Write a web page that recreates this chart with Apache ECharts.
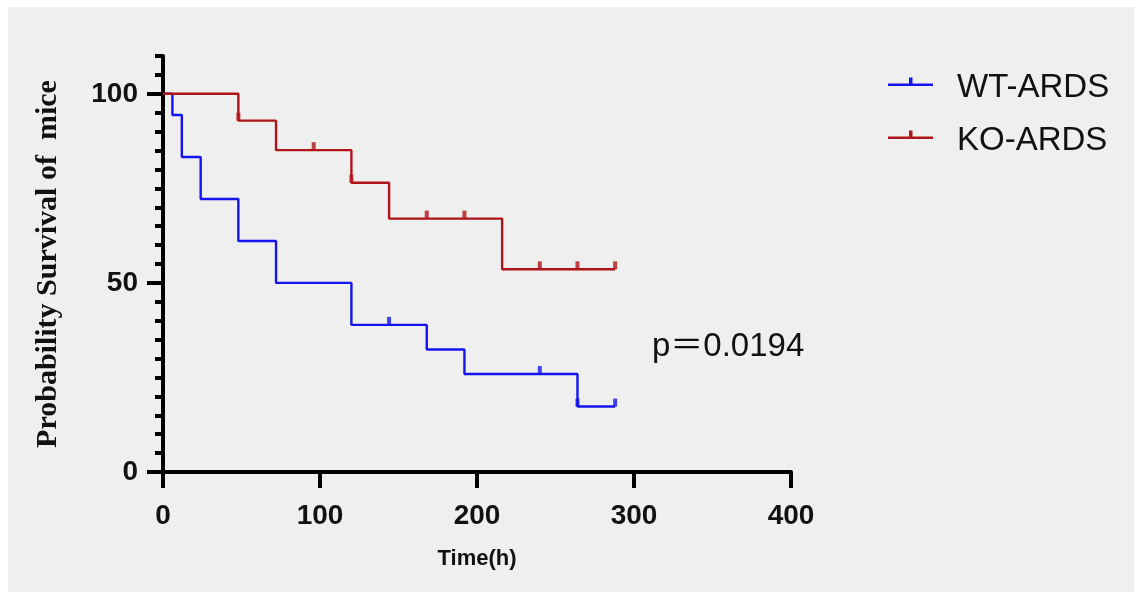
<!DOCTYPE html>
<html>
<head>
<meta charset="utf-8">
<script src="https://cdn.jsdelivr.net/npm/echarts@6/dist/echarts.min.js"></script>
<style>
  html, body { margin: 0; padding: 0; background: #fff; }
  #panel { position: absolute; left: 8px; top: 7px; width: 1126px; height: 585px; background: #efefef; }
  #chart { position: absolute; left: 0; top: 0; width: 1142px; height: 598px; }
</style>
</head>
<body>
<div id="panel"></div>
<div id="chart"></div>
<script>
// Kaplan-Meier steps (time in h, survival in %)
const wtTimes = [0, 6, 12, 24, 48, 72, 120, 168, 192, 264, 288];
const wtSurv = [100, 94.4, 83.3, 72.2, 61.1, 50.0, 38.9, 32.4, 25.9, 17.3, 17.3];
const wtCensorTimes = [144, 240, 264, 288];
const wtCensorSurv = [38.9, 25.9, 17.3, 17.3];

const koTimes = [0, 48, 72, 120, 144, 216, 288];
const koSurv = [100, 92.9, 85.1, 76.5, 67.0, 53.6, 53.6];
const koCensorTimes = [48, 96, 120, 168, 192, 240, 264, 288];
const koCensorSurv = [92.9, 85.1, 76.5, 67.0, 67.0, 53.6, 53.6, 53.6];

const yMajorTicks = [0, 50, 100];
const groupNames = ['WT-ARDS', 'KO-ARDS'];
const pText = 'p\uFF1D0.0194';

const blue = '#1414ee';
const red = '#b0141a';
// line with a small tick on top; the last tiny square only pads the box downwards
const legendIcon = 'path://M0,6h45v2.4H0z M21,0h3.5v7h-3.5z M0,20h0.01v0.01h-0.01z';

function pairs(xs, ys) {
  return xs.map((x, i) => [x, ys[i]]);
}

function stepSeries(name, xs, ys, color) {
  return {
    name: name,
    type: 'line',
    step: 'end',
    data: pairs(xs, ys),
    symbol: 'none',
    itemStyle: { color: color },
    lineStyle: { color: color, width: 2.4 },
    z: 3
  };
}

function censorSeries(name, xs, ys, color) {
  return {
    name: name,
    type: 'scatter',
    data: pairs(xs, ys),
    symbol: 'rect',
    symbolSize: [4, 8],
    symbolOffset: [0, -4],
    itemStyle: { color: color },
    z: 4
  };
}

const chart = echarts.init(document.getElementById('chart'));
const axisLine = { show: true, lineStyle: { color: '#000', width: 4 } };

chart.setOption({
  backgroundColor: 'transparent',
  animation: false,
  grid: { left: 163, top: 56, right: 351, bottom: 126 },
  legend: {
    orient: 'vertical',
    left: 883,
    top: 66,
    itemWidth: 45,
    itemHeight: 20,
    itemGap: 20,
    data: groupNames.map(n => ({ name: n, icon: legendIcon })),
    textStyle: {
      fontFamily: 'Liberation Sans',
      fontSize: 33,
      color: '#111',
      padding: [0, 0, 0, 19]
    }
  },
  xAxis: {
    type: 'value',
    min: 0,
    max: 400,
    interval: 100,
    name: 'Time(h)',
    nameLocation: 'middle',
    nameGap: 76,
    nameTextStyle: { fontFamily: 'Liberation Sans', fontWeight: 'bold', fontSize: 22, color: '#111' },
    axisLine: axisLine,
    axisTick: { length: 16, lineStyle: { color: '#000', width: 4 } },
    axisLabel: { margin: 30, fontFamily: 'Liberation Sans', fontWeight: 'bold', fontSize: 28, color: '#111' },
    splitLine: { show: false }
  },
  yAxis: [
    {
      type: 'value',
      position: 'left',
      min: 0,
      max: 110,
      interval: 5,
      name: 'Probability Survival of  mice',
      nameLocation: 'middle',
      nameRotate: 90,
      nameGap: 100,
      nameTextStyle: { fontFamily: 'Liberation Serif', fontWeight: 'bold', fontSize: 30, color: '#111' },
      axisLine: axisLine,
      axisTick: { length: 8, lineStyle: { color: '#000', width: 4 } },
      axisLabel: { show: false },
      splitLine: { show: false }
    },
    {
      type: 'value',
      position: 'left',
      offset: 0,
      min: 0,
      max: 110,
      axisLine: { show: false },
      axisTick: { customValues: yMajorTicks, length: 16, lineStyle: { color: '#000', width: 4 } },
      axisLabel: { customValues: yMajorTicks, margin: 25, fontFamily: 'Liberation Sans', fontWeight: 'bold', fontSize: 28, color: '#111' },
      splitLine: { show: false }
    }
  ],
  graphic: [
    {
      type: 'text',
      left: 652,
      top: 330,
      style: { text: pText, fontFamily: 'Liberation Sans, "Noto Sans CJK SC"', fontSize: 33, fill: '#111' }
    }
  ],
  series: [
    stepSeries(groupNames[0], wtTimes, wtSurv, blue),
    stepSeries(groupNames[1], koTimes, koSurv, red),
    censorSeries(groupNames[0], wtCensorTimes, wtCensorSurv, blue),
    censorSeries(groupNames[1], koCensorTimes, koCensorSurv, red)
  ]
});
</script>
</body>
</html>
